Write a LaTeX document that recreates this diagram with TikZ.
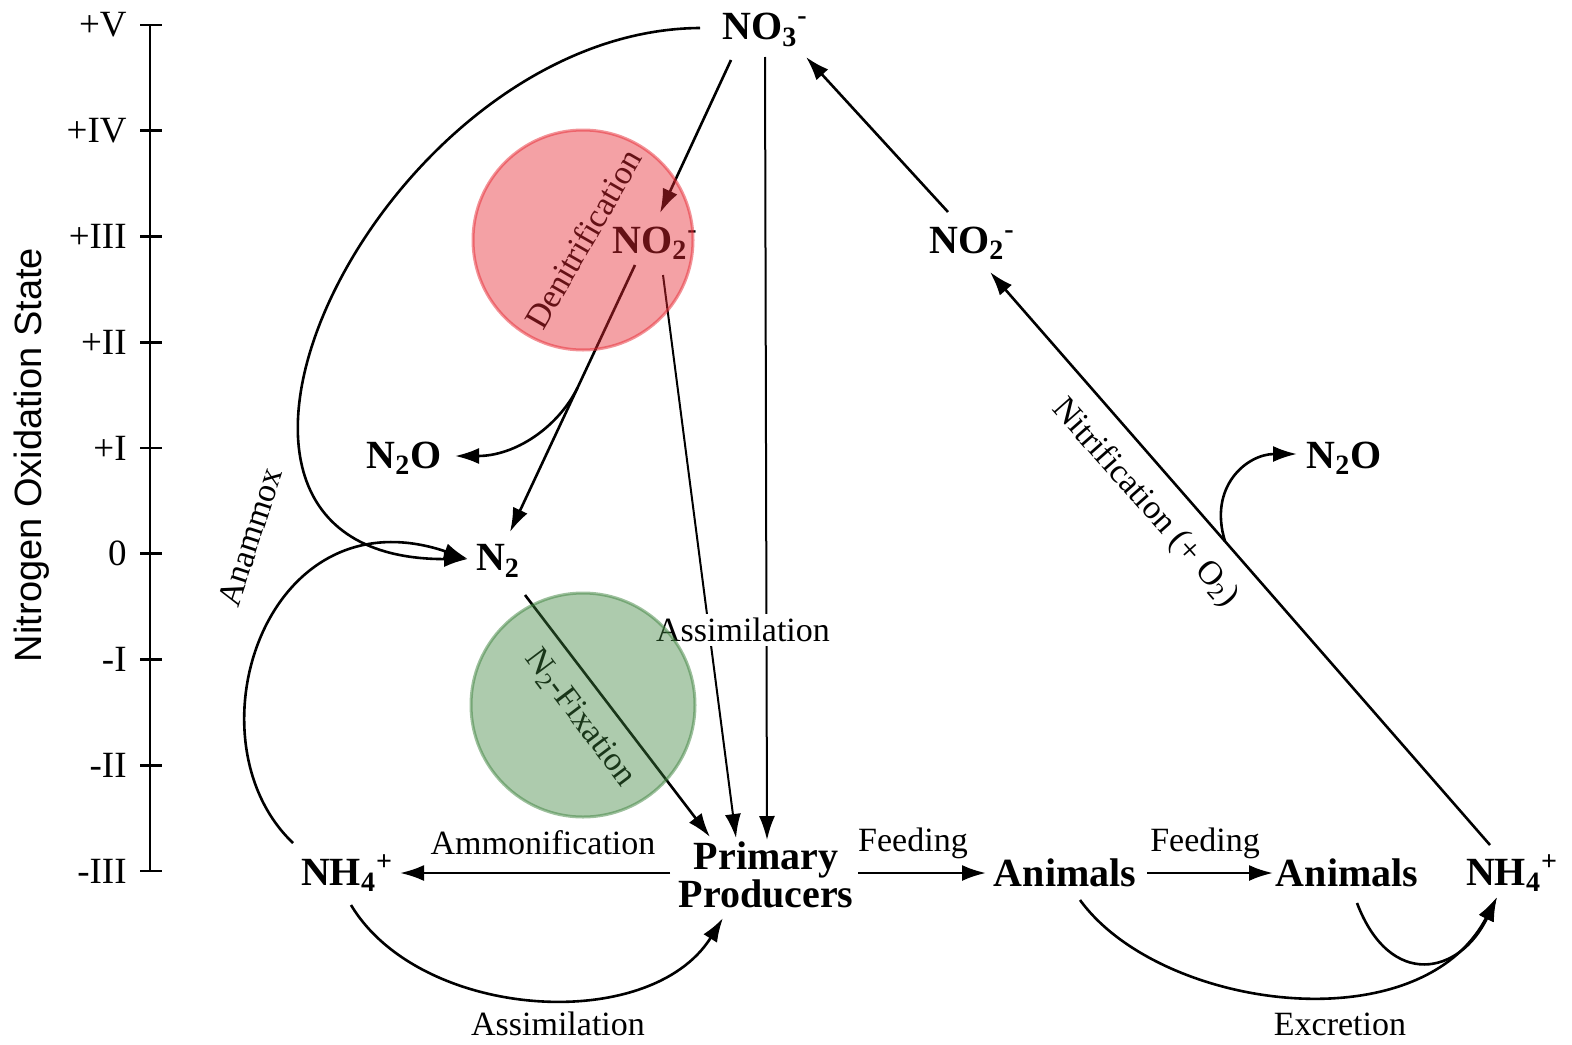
\documentclass[tikz,border=0pt]{standalone}
\usepackage{fontspec}
\setmainfont{Liberation Serif}
\newfontfamily\axisfont{Liberation Sans}
\usetikzlibrary{arrows.meta,calc}
\begin{document}
\begin{tikzpicture}[x=0.5pt,y=-0.5pt,
  spec/.style={inner sep=0,font=\bfseries\fontsize{20}{17.5}\selectfont},
  proc/.style={inner sep=0,font=\fontsize{17}{19}\selectfont},
  flow/.style={line width=1.3pt,-{Latex[length=12pt,width=8pt]}},
  flowthin/.style={line width=1pt,-{Latex[length=12pt,width=8pt]}}]
\definecolor{denitred}{RGB}{230,40,50}
\definecolor{fixgreen}{RGB}{60,130,60}
\useasboundingbox (0,0) rectangle (1572,1044);
% oxidation state axis
\draw[line width=1.4pt](150,25)--(150,871);
\foreach \lab [count=\i from 0] in {+V,+IV,+III,+II,+I,0,-I,-II,-III}{\pgfmathsetmacro{\yy}{25+105.75*\i}\draw[line width=1.4pt](140,\yy)--(162,\yy);\node[proc,anchor=east,font=\fontsize{18.5}{20}\selectfont] at (127,\yy){\lab};}
\node[rotate=90,inner sep=0,font=\axisfont\fontsize{19}{21}\selectfont] (axtitle) at (32,455) {Nitrogen Oxidation State};
% species
\node[spec] (no3) at (765,30) {NO\textsubscript{3}\textsuperscript{-}};
\node[spec] (no2l) at (655,243) {NO\textsubscript{2}\textsuperscript{-}};
\node[spec] (n2ol) at (404,458) {N\textsubscript{2}O};
\node[spec] (n2) at (498,561) {N\textsubscript{2}};
\node[spec] (nh4l) at (347,873) {NH\textsubscript{4}\textsuperscript{+}};
\node[spec,align=center] (pp) at (766,875) {Primary\\Producers};
\node[spec] (ani1) at (1065,873) {Animals};
\node[spec] (ani2) at (1347,873) {Animals};
\node[spec] (nh4r) at (1512,873) {NH\textsubscript{4}\textsuperscript{+}};
\node[spec] (no2r) at (972,243) {NO\textsubscript{2}\textsuperscript{-}};
\node[spec] (n2or) at (1344,458) {N\textsubscript{2}O};
% connectors
\draw[flow]($(no3)+(-34,30)$)--($(no2l)+(5,-30)$);
\draw[flowthin]($(no3)+(0,27)$)--($(pp)+(1,-35)$);
\draw[flowthin]($(no2l)+(8,32)$)--($(pp)+(-30,-37)$);
\draw[flow]($(no2l)+(-20,22)$)--coordinate[pos=0.46](dn)($(n2)+(12,-29)$);
\draw[flow](dn) .. controls +(-20,40) and +(60,0) .. ($(n2ol)+(51,-2)$);
\draw[flow]($(no3)+(-65,-2)$) .. controls (380,30) and (125,560) .. ($(n2)+(-30,-2)$);
\draw[flow]($(nh4l)+(-54,-30)$) .. controls (185,740) and (265,490) .. ($(n2)+(-30,-2)$);
\draw[flow]($(n2)+(27,34)$)--($(pp)+(-56,-38)$);
\draw[flow]($(pp)+(-96,-2)$)--($(nh4l)+(53,0)$);
\draw[flow]($(nh4l)+(4,32)$) .. controls (420,1020) and (650,1035) .. ($(pp)+(-43,43)$);
\draw[flow]($(pp)+(92,-2)$)--($(ani1)+(-79,0)$);
\draw[flow]($(ani1)+(82,0)$)--($(ani2)+(-74,0)$);
\draw[flow]($(ani1)+(15,27)$) .. controls (1160,1010) and (1420,1045) .. ($(nh4r)+(-15,24)$);
\draw[flow]($(ani2)+(10,30)$) .. controls (1390,990) and (1460,975) .. ($(nh4r)+(-15,24)$);
\draw[flow]($(nh4r)+(-22,-28)$)--coordinate[pos=0.53](nb)($(no2r)+(18,29)$);
\draw[flow](nb) .. controls +(-17,-55) and +(-50,0) .. ($(n2or)+(-47,-4)$);
\draw[flow]($(no2r)+(-24,-31)$)--($(no3)+(41,27)$);
% processes
\node[proc,fill=white,inner sep=2pt] (asm1) at (743,630) {Assimilation};
\node[proc] (amm) at (543,843) {Ammonification};
\node[proc] (asm2) at (558,1024) {Assimilation};
\node[proc] (feed1) at (913,843) {Feeding};
\node[proc] (feed2) at (1205,843) {Feeding};
\node[proc] (excr) at (1340,1024) {Excretion};
\node[proc,rotate=72] (anam) at (250,537) {Anammox};
\node[proc,rotate=60] (denit) at (583,239) {Denitrification};
\node[proc,rotate=-53] (nfix) at (580,718) {N\textsubscript{2}-Fixation};
\node[proc,rotate=-48.5] (nitr) at (1145,503) {Nitrification (+ O\textsubscript{2})};
% shaded zones
\fill[denitred,fill opacity=0.44](583,240) circle[radius=110];
\draw[denitred,opacity=0.5,line width=1.5pt](583,240) circle[radius=110];
\fill[fixgreen,fill opacity=0.42](583,705) circle[radius=112];
\draw[fixgreen,opacity=0.5,line width=1.5pt](583,705) circle[radius=112];
\end{tikzpicture}
\end{document}
